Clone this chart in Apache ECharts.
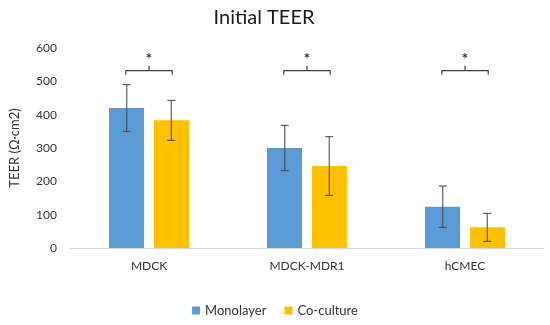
<!DOCTYPE html>
<html><head><meta charset="utf-8">
<script src="https://cdn.jsdelivr.net/npm/echarts@6/dist/echarts.min.js"></script>
<style>html,body{margin:0;padding:0;background:#fff}#c{width:550px;height:325px}</style>
</head><body><div id="c"></div>
<script>
var categories = ['MDCK', 'MDCK-MDR1', 'hCMEC'];
var seriesNames = ['Monolayer', 'Co-culture'];
var monolayer = [420, 300, 124];
var coculture = [383, 246, 62];
var monolayerErr = [70, 68, 62];
var cocultureErr = [60, 88, 42];
var bracketLevel = [532, 532, 532];
var significance = ['*', '*', '*'];

var FONT = 'Lato, "Open Sans", sans-serif';
var chart = echarts.init(document.getElementById('c'), null, {renderer: 'canvas'});

function errSeries(vals, errs, side) {
  var data = vals.map(function (v, i) { return [i, v, errs[i]]; });
  return {
    type: 'custom',
    z: 10,
    renderItem: function (params, api) {
      var i = api.value(0), v = api.value(1), e = api.value(2);
      var band = api.size([1, 0])[0];
      var off = side * 22.5 * band / 160;
      var top = api.coord([i, v + e]);
      var bot = api.coord([i, v - e]);
      var x = top[0] + off;
      var cap = 4;
      var st = {stroke: '#404040', lineWidth: 1};
      return {type: 'group', children: [
        {type: 'line', shape: {x1: x, y1: top[1], x2: x, y2: bot[1]}, style: st},
        {type: 'line', shape: {x1: x - cap, y1: top[1], x2: x + cap, y2: top[1]}, style: st},
        {type: 'line', shape: {x1: x - cap, y1: bot[1], x2: x + cap, y2: bot[1]}, style: st}
      ]};
    },
    data: data
  };
}

var bracketData = bracketLevel.map(function (v, i) { return [i, v, significance[i]]; });

chart.setOption({
  animation: false,
  textStyle: {fontFamily: FONT},
  title: {
    text: 'Initial TEER', left: 259, textAlign: 'center', top: 3,
    textStyle: {fontFamily: FONT, fontSize: 20, fontWeight: 'normal', color: '#1a1a1a'}
  },
  legend: {
    data: seriesNames, bottom: 3, left: 'center',
    itemWidth: 8, itemHeight: 8, itemGap: 18,
    textStyle: {fontFamily: FONT, fontSize: 13, color: '#333'},
    icon: 'rect'
  },
  grid: {left: 65, right: 6, top: 48, bottom: 77, containLabel: false},
  xAxis: {
    type: 'category', data: categories,
    axisLine: {lineStyle: {color: '#d9d9d9'}},
    axisTick: {show: false},
    axisLabel: {color: '#333', fontSize: 12, fontFamily: FONT, margin: 12}
  },
  yAxis: {
    type: 'value', min: 0, max: 600, interval: 100,
    name: 'TEER (Ω·cm2)', nameLocation: 'middle', nameGap: 49, nameRotate: 90,
    nameTextStyle: {color: '#333', fontSize: 13, fontFamily: FONT},
    axisLine: {show: false}, axisTick: {show: false},
    splitLine: {show: false},
    axisLabel: {color: '#333', fontSize: 12, fontFamily: FONT, margin: 13}
  },
  series: [
    {name: seriesNames[0], type: 'bar', data: monolayer, barWidth: 35, barGap: '28.6%',
     itemStyle: {color: '#5B9BD5'}},
    {name: seriesNames[1], type: 'bar', data: coculture, barWidth: 35,
     itemStyle: {color: '#FFC000'}},
    errSeries(monolayer, monolayerErr, -1),
    errSeries(coculture, cocultureErr, 1),
    {
      type: 'custom', z: 10,
      renderItem: function (params, api) {
        var i = api.value(0), v = api.value(1);
        var band = api.size([1, 0])[0];
        var off = 23.5 * band / 160;
        var p = api.coord([i, v]);
        var x1 = p[0] - off, x2 = p[0] + off, y = p[1];
        var st = {stroke: '#404040', lineWidth: 1.2, fill: null};
        return {type: 'group', children: [
          {type: 'polyline', shape: {points: [[x1, y + 4], [x1, y], [x2, y], [x2, y + 4]]}, style: st},
          {type: 'line', shape: {x1: p[0], y1: y, x2: p[0], y2: y - 5}, style: st},
          {type: 'text', style: {text: significance[i], x: p[0], y: y - 12, align: 'center', verticalAlign: 'middle',
            font: 'bold 15px ' + FONT, fill: '#333'}}
        ]};
      },
      data: bracketData
    }
  ]
});
</script></body></html>
